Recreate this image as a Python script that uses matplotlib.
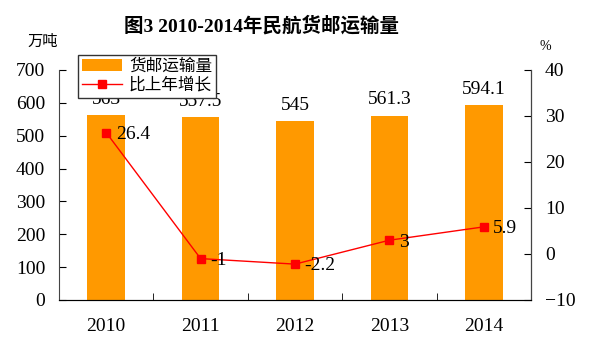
import matplotlib.pyplot as plt
import numpy as np

plt.rcParams['font.family'] = ['Liberation Serif', 'Noto Sans CJK SC']

years = ['2010', '2011', '2012', '2013', '2014']
volume = [563, 557.5, 545, 561.3, 594.1]
growth = [26.4, -1, -2.2, 3, 5.9]
volume_labels = ['563', '557.5', '545', '561.3', '594.1']
growth_labels = ['26.4', '-1', '-2.2', '3', '5.9']

fig = plt.figure(figsize=(5.9, 3.5), dpi=100)
ax = fig.add_axes([59 / 590, 50 / 350, 472 / 590, 230 / 350])
x = np.arange(len(years))

bars = ax.bar(x, volume, width=0.4, color='#FF9900', label='货邮运输量', zorder=2)
for xi, v, lab in zip(x, volume, volume_labels):
    ax.text(xi, v + 22, lab, ha='center', va='bottom', fontsize=14)

ax.set_xlim(-0.5, 4.5)
ax.set_ylim(0, 700)
ax.set_yticks(range(0, 701, 100))
ax.set_xticks(x)
ax.set_xticklabels(years, fontsize=14)
ax.set_xticks(np.arange(0.5, 4.5, 1), minor=True)
ax.tick_params(axis='x', which='major', length=0, pad=13)
ax.tick_params(axis='x', which='minor', direction='in', length=5)
ax.tick_params(axis='y', direction='in', length=5, labelsize=14, pad=10)
ax.spines['top'].set_visible(False)
for s in ['left', 'bottom']:
    ax.spines[s].set_color('#444444')

ax2 = ax.twinx()
line, = ax2.plot(x, growth, color='#FF0000', lw=1, marker='s', markersize=6,
                 label='比上年增长', zorder=3)
for xi, g, lab in zip(x, growth, growth_labels):
    ax2.text(xi + 0.1, g - 0.4, lab, ha='left', va='center', fontsize=14)
ax2.set_ylim(-10, 40)
ax2.set_yticks(range(-10, 41, 10))
ax2.tick_params(axis='y', direction='in', length=5, labelsize=14, pad=10)
ax2.spines['top'].set_visible(False)
ax2.spines['left'].set_visible(False)
ax2.spines['right'].set_color('#444444')

fig.legend(handles=[bars, line], loc='upper left', bbox_to_anchor=(78 / 590, 1 - 55 / 350),
           borderaxespad=0, fontsize=12, frameon=True, fancybox=False, edgecolor='#333333',
           borderpad=0.25, labelspacing=0.15, handlelength=2.4, handletextpad=0.4,
           framealpha=1)

fig.text(262 / 590, 1 - 26 / 350, '图3 2010-2014年民航货邮运输量', ha='center', va='center',
         fontsize=14, fontweight='bold')
fig.text(43 / 590, 1 - 42 / 350, '万吨', ha='center', va='center', fontsize=11)
fig.text(545 / 590, 1 - 46 / 350, '%', ha='center', va='center', fontsize=10)

fig.savefig('out.png', dpi=100)
